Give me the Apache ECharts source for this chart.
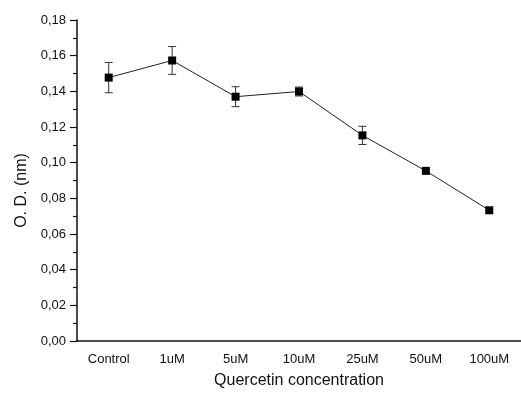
<!DOCTYPE html>
<html>
<head>
<meta charset="utf-8">
<script src="https://cdn.jsdelivr.net/npm/echarts@6/dist/echarts.min.js"></script>
<style>
  html, body { margin: 0; padding: 0; background: #fff; }
  #chart { width: 521px; height: 394px; }
</style>
</head>
<body>
<div id="chart"></div>
<script>
const categories = ['Control', '1uM', '5uM', '10uM', '25uM', '50uM', '100uM']
const odValues = [0.1477, 0.1573, 0.1370, 0.1399, 0.1153, 0.0954, 0.0733]
const odErrors = [0.0085, 0.0078, 0.0056, 0.0025, 0.0051, 0, 0]
const yTicks = { min: 0, max: 0.18, interval: 0.02 }

const font = "'Liberation Sans', Arial, sans-serif"

const chart = echarts.init(document.getElementById('chart'))

// error bars: [index, low, high]
const errorData = odValues.map((v, i) => [i, v - odErrors[i], v + odErrors[i]])

const renderErrorBar = (params, api) => {
  const i = api.value(0)
  const lo = api.coord([i, api.value(1)])
  const hi = api.coord([i, api.value(2)])
  if (Math.abs(lo[1] - hi[1]) < 0.5) return null
  const half = 4
  const style = { stroke: '#333', lineWidth: 1 }
  return {
    type: 'group',
    children: [
      { type: 'line', shape: { x1: lo[0], y1: lo[1], x2: hi[0], y2: hi[1] }, style },
      { type: 'line', shape: { x1: lo[0] - half, y1: lo[1], x2: lo[0] + half, y2: lo[1] }, style },
      { type: 'line', shape: { x1: hi[0] - half, y1: hi[1], x2: hi[0] + half, y2: hi[1] }, style },
    ],
  }
}

const option = {
  backgroundColor: '#fff',
  animation: false,
  grid: { left: 77, top: 20, right: -5, bottom: 49 },
  xAxis: [
    {
      type: 'category',
      data: categories,
      boundaryGap: true,
      name: 'Quercetin concentration',
      nameLocation: 'middle',
      nameGap: 32,
      nameTextStyle: { fontFamily: font, fontSize: 16, color: '#111' },
      axisLine: { lineStyle: { color: '#111', width: 1.5 } },
      axisTick: { alignWithLabel: true, length: 6, lineStyle: { color: '#111', width: 1.2 } },
      axisLabel: { fontFamily: font, fontSize: 13, color: '#111', margin: 12 },
      splitLine: { show: false },
    },
    {
      type: 'category',
      data: categories,
      boundaryGap: true,
      position: 'bottom',
      axisLine: { show: false },
      axisTick: { length: 3, lineStyle: { color: '#111', width: 1.2 } },
      axisLabel: { show: false },
      splitLine: { show: false },
    },
  ],
  yAxis: {
    type: 'value',
    min: yTicks.min,
    max: yTicks.max,
    interval: yTicks.interval,
    name: 'O. D. (nm)',
    nameLocation: 'middle',
    nameGap: 47,
    nameTextStyle: { fontFamily: font, fontSize: 16, color: '#111', padding: [0, 0, 0, -20] },
    axisLine: { show: true, lineStyle: { color: '#111', width: 1.5 } },
    axisTick: { show: true, length: 7, lineStyle: { color: '#111', width: 1.2 } },
    minorTick: { show: true, splitNumber: 2, length: 4, lineStyle: { color: '#111', width: 1.2 } },
    axisLabel: {
      fontFamily: font,
      fontSize: 13,
      color: '#111',
      margin: 11,
      formatter: (v) => v.toFixed(2).replace('.', ','),
    },
    splitLine: { show: false },
  },
  series: [
    {
      type: 'custom',
      data: errorData,
      renderItem: renderErrorBar,
      z: 2,
    },
    {
      type: 'line',
      data: odValues,
      symbol: 'rect',
      symbolSize: 8,
      itemStyle: { color: '#000' },
      lineStyle: { color: '#222', width: 1 },
      z: 3,
    },
  ],
}

chart.setOption(option)
</script>
</body>
</html>
